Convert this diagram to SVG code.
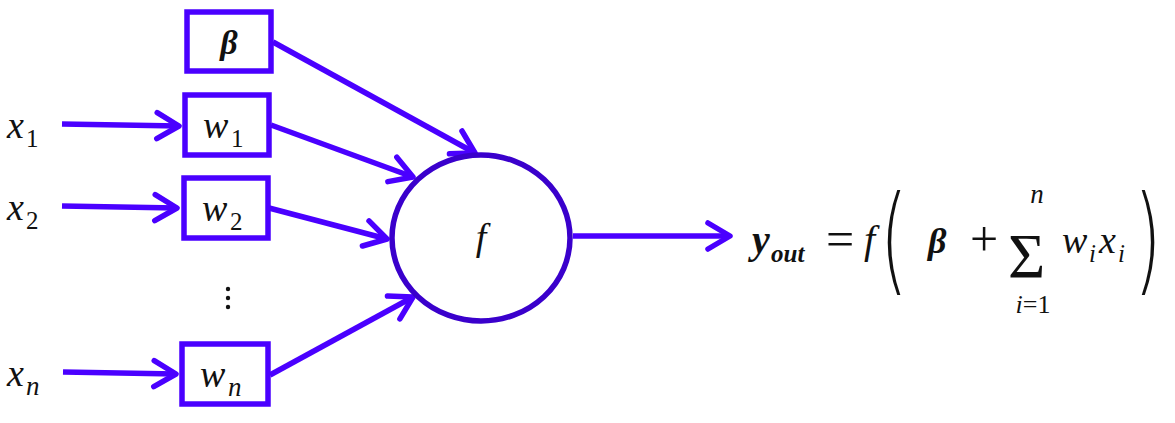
<svg xmlns="http://www.w3.org/2000/svg" width="1175" height="423" viewBox="0 0 1175 423">
<defs>
<style>
.box{fill:#fff;stroke:#4a00ff;stroke-width:5.5}
.node{fill:#fff;stroke:#3a00cc;stroke-width:5.5}
.edge{stroke:#4a00ff;stroke-width:5.5;fill:none;marker-end:url(#ah)}
text{fill:#111}
.m{font-style:italic}
.b{font-weight:bold}
.p{font-family:'DejaVu Sans',sans-serif;font-weight:200}
</style>
<marker id="ah" markerUnits="userSpaceOnUse" viewBox="-28 -17 32 34" markerWidth="32" markerHeight="34" refX="0" refY="0" orient="auto">
<path d="M-22,-13 L0,0 L-22,13" fill="none" stroke="#4a00ff" stroke-width="5.5" stroke-linecap="round" stroke-linejoin="round"/>
</marker>
</defs>
<g id="connectors">
<line class="edge" x1="62" y1="124" x2="179" y2="126"/>
<line class="edge" x1="62" y1="206" x2="177" y2="208"/>
<line class="edge" x1="63" y1="372" x2="176" y2="374"/>
<line class="edge" x1="273" y1="42" x2="475" y2="153"/>
<line class="edge" x1="271" y1="125" x2="413" y2="177"/>
<line class="edge" x1="269" y1="208" x2="387" y2="239"/>
<line class="edge" x1="270" y1="375" x2="413" y2="297"/>
<line class="edge" x1="573" y1="236" x2="730" y2="236"/>
</g>
<g font-family="Liberation Serif, serif">
<g id="x1"><text class="m" x="7" y="138" font-size="38">x</text><text x="26" y="147" font-size="25">1</text></g>
<g id="x2"><text class="m" x="7" y="220" font-size="38">x</text><text x="26" y="229" font-size="25">2</text></g>
<g id="xn"><text class="m" x="7" y="386" font-size="38">x</text><text class="m" x="26" y="395" font-size="27">n</text></g>
<g id="beta"><rect class="box" x="187" y="12" width="84" height="59"/><text class="m b" x="229" y="54" font-size="34" text-anchor="middle">β</text></g>
<g id="w1"><rect class="box" x="185" y="95" width="84" height="60"/><text class="m" x="203" y="138" font-size="38">w</text><text x="231" y="147" font-size="25">1</text></g>
<g id="w2"><rect class="box" x="184" y="178" width="84" height="60"/><text class="m" x="202" y="221" font-size="38">w</text><text x="230" y="230" font-size="25">2</text></g>
<g id="dots"><circle cx="228" cy="289" r="2.2" fill="#111"/><circle cx="228" cy="298" r="2.2" fill="#111"/><circle cx="228" cy="307" r="2.2" fill="#111"/></g>
<g id="wn"><rect class="box" x="182" y="344" width="86" height="60"/><text class="m" x="200" y="387" font-size="38">w</text><text class="m" x="228" y="396" font-size="27">n</text></g>
<g id="f"><ellipse class="node" cx="481" cy="238" rx="89" ry="83"/><text class="m" x="481" y="250" font-size="38" text-anchor="middle">f</text></g>
<g id="formula">
<text class="m b" x="752" y="253" font-size="40">y</text>
<text class="m b" x="771" y="262" font-size="25">out</text>
<text x="826" y="256" font-size="50">=</text>
<text class="m" x="864" y="253" font-size="40">f</text>
<text class="p" x="880" y="280" font-size="118" transform="translate(880 280) scale(0.6 1) translate(-880 -280)">(</text>
<text class="m b" x="928" y="253" font-size="36">β</text>
<text x="970" y="256" font-size="50">+</text>
<text x="1008" y="278" font-size="64">Σ</text>
<text class="m" x="1037" y="203" font-size="27" text-anchor="middle">n</text>
<text x="1033" y="313" font-size="26" text-anchor="middle"><tspan class="m">i</tspan>=1</text>
<text class="m" x="1062" y="253" font-size="38">w</text>
<text class="m" x="1089" y="262" font-size="25">i</text>
<text class="m" x="1099" y="253" font-size="38">x</text>
<text class="m" x="1118" y="262" font-size="25">i</text>
<text class="p" x="1134" y="280" font-size="118" transform="translate(1134 280) scale(0.6 1) translate(-1134 -280)">)</text>
</g>
</g>
</svg>
